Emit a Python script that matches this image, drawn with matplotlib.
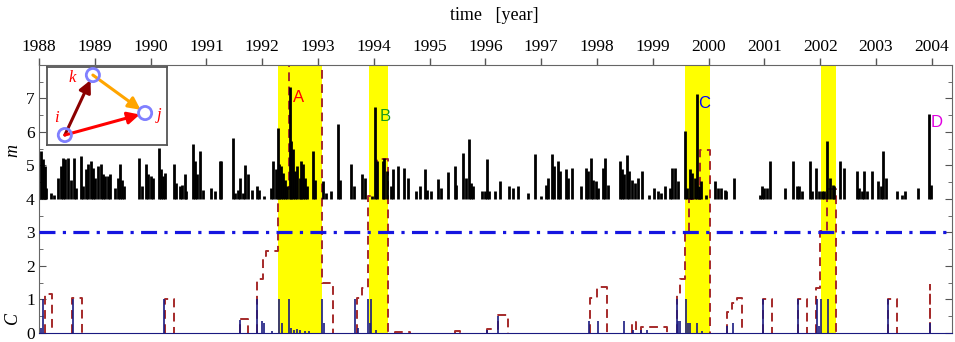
import matplotlib
matplotlib.use("Agg")
import matplotlib.pyplot as plt

plt.rcParams['font.family'] = ['Liberation Serif', 'DejaVu Serif']

# magnitude events (year, m)
m_t = [1988.03, 1988.07, 1988.10, 1988.13, 1988.22, 1988.27, 1988.35, 1988.40, 1988.43, 1988.47,
       1988.52, 1988.58, 1988.63, 1988.67, 1988.75, 1988.79, 1988.85, 1988.88, 1988.93, 1988.97,
       1989.01, 1989.06, 1989.11, 1989.15, 1989.18, 1989.24, 1989.27, 1989.37, 1989.42, 1989.45,
       1989.48, 1989.52, 1989.80, 1989.85, 1989.91, 1989.95, 1990.01, 1990.04, 1990.15, 1990.18,
       1990.22, 1990.26, 1990.42, 1990.46, 1990.52, 1990.56, 1990.61, 1990.64, 1990.76, 1990.80,
       1990.84, 1990.88, 1990.94, 1991.09, 1991.15, 1991.24, 1991.27, 1991.48, 1991.52, 1991.57,
       1991.60, 1991.66, 1991.70, 1991.75, 1991.81, 1991.90, 1991.95, 1992.04, 1992.15, 1992.19,
       1992.24, 1992.28, 1992.31, 1992.34, 1992.37, 1992.41, 1992.45, 1992.49, 1992.52, 1992.55,
       1992.58, 1992.63, 1992.67, 1992.70, 1992.73, 1992.77, 1992.81, 1992.91, 1992.95, 1993.09,
       1993.15, 1993.24, 1993.36, 1993.39, 1993.60, 1993.65, 1993.78, 1993.84, 1993.96, 1994.03,
       1994.06, 1994.16, 1994.19, 1994.24, 1994.30, 1994.34, 1994.43, 1994.55, 1994.61, 1994.76,
       1994.82, 1994.91, 1994.96, 1995.03, 1995.15, 1995.21, 1995.33, 1995.45, 1995.48, 1995.60,
       1995.66, 1995.70, 1995.75, 1995.78, 1995.93, 1995.99, 1996.02, 1996.06, 1996.17, 1996.26,
       1996.43, 1996.49, 1996.58, 1996.76, 1996.88, 1997.00, 1997.09, 1997.12, 1997.19, 1997.23,
       1997.30, 1997.33, 1997.45, 1997.48, 1997.55, 1997.72, 1997.81, 1997.84, 1997.89, 1997.93,
       1997.99, 1998.02, 1998.11, 1998.15, 1998.19, 1998.41, 1998.45, 1998.48, 1998.53, 1998.57,
       1998.62, 1998.68, 1998.74, 1998.81, 1998.94, 1999.02, 1999.09, 1999.15, 1999.21, 1999.30,
       1999.34, 1999.39, 1999.45, 1999.57, 1999.62, 1999.66, 1999.70, 1999.75, 1999.79, 1999.83,
       1999.87, 1999.96, 2000.11, 2000.16, 2000.22, 2000.29, 2000.32, 2000.45, 2000.92, 2000.96,
       2001.00, 2001.04, 2001.10, 2001.37, 2001.52, 2001.58, 2001.62, 2001.68, 2001.82, 2001.86,
       2001.92, 2001.97, 2002.03, 2002.07, 2002.13, 2002.18, 2002.22, 2002.25, 2002.36, 2002.43,
       2002.65, 2002.70, 2002.74, 2002.79, 2002.83, 2002.92, 2003.04, 2003.09, 2003.13, 2003.17,
       2003.37, 2003.46, 2003.52, 2003.75, 2003.95, 2003.98]
m_v = [5.43, 5.18, 4.98, 4.33, 4.18, 4.13, 4.63, 4.98, 5.23, 5.18,
       5.23, 4.58, 5.23, 4.33, 5.28, 4.38, 4.88, 5.03, 5.13, 4.93,
       4.63, 4.98, 5.03, 4.73, 4.68, 4.68, 4.73, 4.33, 4.63, 5.03,
       4.58, 4.38, 5.23, 4.38, 5.03, 4.73, 4.68, 4.63, 5.53, 4.88,
       4.68, 4.78, 5.03, 4.48, 4.38, 4.43, 4.73, 4.23, 5.63, 5.13,
       4.73, 5.43, 4.28, 4.33, 4.23, 5.13, 5.13, 5.83, 4.18, 4.28,
       4.63, 4.18, 5.00, 4.73, 4.28, 4.38, 4.28, 4.08, 4.33, 5.13,
       4.88, 6.13, 5.03, 4.98, 4.78, 4.58, 4.38, 7.33, 5.73, 5.48,
       4.83, 4.98, 4.63, 5.13, 5.03, 4.63, 4.38, 5.43, 4.58, 4.53,
       4.18, 4.23, 6.23, 4.58, 5.03, 4.38, 4.73, 4.63, 4.10, 6.73,
       5.13, 5.13, 5.23, 4.83, 4.38, 4.88, 4.98, 4.93, 4.63, 4.23,
       4.38, 4.88, 4.28, 4.23, 4.60, 4.33, 4.80, 4.98, 4.43, 5.38,
       4.63, 5.80, 4.48, 4.38, 4.23, 4.23, 5.20, 4.23, 4.23, 4.53,
       4.38, 4.33, 4.38, 4.18, 5.33, 4.08, 4.43, 4.63, 5.33, 4.98,
       5.13, 4.83, 4.88, 4.63, 4.93, 4.38, 4.93, 4.83, 5.23, 4.58,
       4.53, 4.33, 4.93, 5.23, 4.43, 5.13, 4.88, 4.73, 5.30, 4.83,
       4.58, 4.48, 4.63, 4.83, 4.13, 4.33, 4.23, 4.18, 4.38, 4.33,
       4.93, 4.93, 4.53, 6.03, 4.33, 4.88, 4.78, 4.63, 7.13, 4.38,
       4.53, 4.13, 4.53, 4.33, 4.33, 4.28, 4.23, 4.63, 4.13, 4.38,
       4.33, 4.33, 5.13, 4.33, 5.13, 4.38, 4.38, 4.23, 5.13, 4.23,
       4.93, 4.23, 4.23, 4.23, 5.73, 4.63, 4.43, 4.38, 5.13, 4.93,
       4.83, 4.33, 4.23, 4.83, 4.23, 4.83, 4.53, 4.38, 5.43, 4.63,
       4.23, 4.13, 4.23, 4.33, 6.53, 4.43]

# blue spikes of C
b_t = [1988.04, 1988.07, 1988.61, 1990.24, 1991.60, 1991.91, 1992.00, 1992.03, 1992.18, 1992.30,
       1992.35, 1992.48, 1992.52, 1992.57, 1992.62, 1992.68, 1992.77, 1992.84, 1993.07, 1993.11,
       1993.66, 1993.72, 1993.90, 1993.93, 1993.95, 1994.04, 1996.03, 1996.23, 1997.86, 1998.02,
       1998.48, 1998.65, 1998.79, 1998.90, 1999.43, 1999.45, 1999.49, 1999.59, 1999.63, 1999.67,
       1999.79, 1999.88, 2000.33, 2000.44, 2000.97, 2001.60, 2001.94, 2001.98, 2002.01, 2002.14,
       2003.22, 2003.97]
b_v = [0.15, 1.0, 1.0, 1.0, 0.4, 1.0, 0.35, 0.3, 0.05, 1.0,
       0.3, 1.0, 0.15, 0.1, 0.12, 0.08, 0.05, 0.05, 1.0, 0.3,
       1.0, 0.15, 1.0, 0.3, 1.0, 0.1, 0.1, 0.5, 0.35, 0.35,
       0.35, 0.1, 0.1, 0.1, 1.0, 0.35, 0.35, 1.0, 0.3, 0.3,
       0.3, 0.05, 0.2, 0.3, 1.0, 1.0, 1.0, 0.2, 1.0, 1.0,
       1.0, 0.3]

# dashed red C curve (step changes)
c_t = [1988.0, 1988.10, 1988.23, 1988.60, 1988.77, 1990.25, 1990.42, 1991.60, 1991.75, 1991.91,
       1992.01, 1992.07, 1992.28, 1992.48, 1993.07, 1993.26, 1993.70, 1993.79, 1993.90, 1994.06,
       1994.25, 1994.38, 1994.65, 1995.46, 1995.54, 1996.03, 1996.23, 1996.41, 1997.87, 1998.00,
       1998.18, 1998.63, 1998.70, 1998.78, 1999.25, 1999.43, 1999.49, 1999.58, 1999.65, 1999.85,
       2000.03, 2000.33, 2000.42, 2000.51, 2000.60, 2000.97, 2001.14, 2001.60, 2001.76, 2001.92,
       2002.00, 2002.12, 2002.28, 2003.22, 2003.38, 2003.96, 2003.97, 2004.36]
c_v = [0, 1.15, 0, 1.05, 0, 1.0, 0, 0.42, 0, 1.6,
       2.3, 2.45, 4.3, 12, 1.5, 0, 1.05, 1.35, 4.1, 5.2,
       0, 0.03, 0, 0.05, 0, 0.11, 0.55, 0, 1.05, 1.38,
       0, 0.34, 0, 0.18, 0, 1.14, 1.6, 3.0, 4.0, 5.45,
       0, 0.63, 0.9, 1.05, 0, 1.0, 0, 1.0, 0, 1.35,
       3.05, 4.3, 0, 1.0, 0, 1.43, 0, 0]

bands = [(1992.28, 1993.07), (1993.91, 1994.25), (1999.58, 2000.03), (2002.01, 2002.28)]
marks = ['A', 'B', 'C', 'D']
mark_x = [1992.55, 1994.11, 1999.81, 2003.97]
mark_y = [7.04, 6.47, 6.86, 6.29]
mark_col = ['#ff0000', '#1a9a1a', '#0000ff', '#e000e0']
threshold = 3
years = list(range(1988, 2005))

fig = plt.figure(figsize=(9.55, 3.42), dpi=100)
ax = fig.add_axes([0.0408, 0.0263, 0.956, 0.784])

for a, b in bands:
    ax.axvspan(a, b, color='#ffff00', lw=0, zorder=0)

# step path of C, leaving out the stretches lying on zero
xs, ys = [], []
for i in range(len(c_t) - 1):
    prev = c_v[i - 1] if i > 0 else 0
    v = c_v[i]
    xs += [c_t[i], c_t[i]]
    ys += [prev, v]
    if v > 0:
        xs.append(c_t[i + 1])
        ys.append(v)
    else:
        xs.append(float('nan'))
        ys.append(float('nan'))
ax.plot(xs, ys, color='#a52a2a', lw=1.4, dashes=(4.5, 2.8), zorder=2)

ax.vlines(b_t, 0, b_v, color='#1a1a80', lw=1.2, zorder=3)
ax.vlines(m_t, 4, m_v, color='black', lw=2.0, zorder=4)
ax.axhline(threshold, color='#1515e0', lw=2.3, dashes=(5, 2.3, 1, 2.3), zorder=5)

for t, x, y, c in zip(marks, mark_x, mark_y, mark_col):
    ax.text(x, y, t, color=c, fontsize=12, family='Liberation Sans', va='center', ha='left', zorder=6)

ax.set_xlim(1988, 2004.36)
ax.set_ylim(0, 8)
ax.xaxis.tick_top()
ax.set_xticks(years)
ax.set_xticklabels([str(y) for y in years], fontsize=12.5)
ax.tick_params(axis='x', direction='out', length=5, width=1, color='#555555', pad=2)
ax.set_yticks(range(0, 8))
ax.set_yticks([v + 0.5 for v in range(0, 8)], minor=True)
ax.tick_params(axis='y', which='both', direction='in', left=True, right=True, color='#555555')
ax.tick_params(axis='y', which='major', length=5, labelsize=12.5, pad=3)
ax.tick_params(axis='y', which='minor', length=3)
for s in ['top', 'left', 'right']:
    ax.spines[s].set_color('#666666')
ax.spines['bottom'].set_color('#1a1a80')

fig.text(0.518, 0.956, 'time   [year]', ha='center', va='center', fontsize=13)
fig.text(0.013, 0.56, 'm', rotation=90, style='italic', ha='center', va='center', fontsize=13)
fig.text(0.013, 0.07, 'C', rotation=90, style='italic', ha='center', va='center', fontsize=13)

# inset with triangle i -> k -> j
ins = fig.add_axes([0.049, 0.576, 0.126, 0.228])
ins.set_xlim(0, 1)
ins.set_ylim(0, 1)
ins.set_xticks([])
ins.set_yticks([])
for s in ins.spines.values():
    s.set_color('#555555')
    s.set_linewidth(1.3)
node_x = [0.15, 0.817, 0.383]
node_y = [0.128, 0.41, 0.897]
node_lab = ['i', 'j', 'k']
lab_x = [0.08, 0.93, 0.21]
lab_y = [0.34, 0.38, 0.86]
edges = [(0, 2, '#8b0000'), (2, 1, '#ffa500'), (0, 1, '#ff0000')]
for s, e, c in edges:
    ins.annotate('', xy=(node_x[e], node_y[e]), xytext=(node_x[s], node_y[s]),
                 arrowprops=dict(arrowstyle='-|>', color=c, lw=2.2, mutation_scale=18,
                                 shrinkA=0, shrinkB=4))
ins.scatter(node_x, node_y, s=90, facecolors='none', edgecolors='#8080ff', linewidths=2, zorder=5)
for t, x, y in zip(node_lab, lab_x, lab_y):
    ins.text(x, y, t, color='#ff0000', style='italic', fontsize=12, ha='center', va='center')

fig.savefig('out.png', dpi=100)
